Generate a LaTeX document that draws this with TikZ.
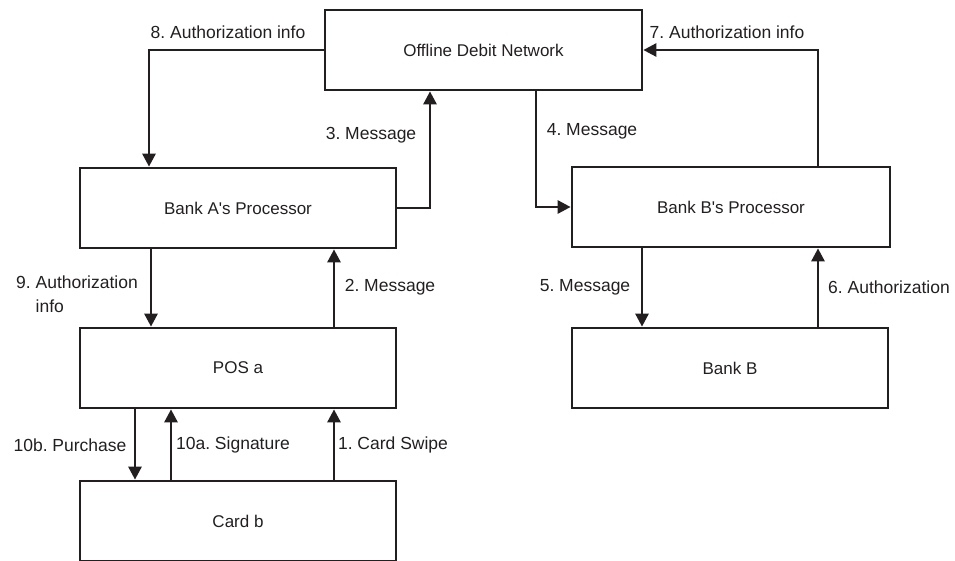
\documentclass[tikz,border=0pt]{standalone}
\usepackage{fontspec}
\setmainfont{Liberation Sans}
\usetikzlibrary{arrows.meta}
\definecolor{ink}{HTML}{231F20}
\frenchspacing
\begin{document}
\begin{tikzpicture}[x=1pt,y=-1pt,
  box/.style={draw=ink, line width=2.7pt, minimum width=316pt, minimum height=80pt, inner sep=0pt, text=ink, font=\fontsize{17}{22}\selectfont},
  lbl/.style={inner sep=0pt, text=ink, font=\fontsize{17.5}{24}\selectfont},
  arr/.style={draw=ink, line width=2.7pt, -{Triangle[length=13pt,width=13pt]}}]
\useasboundingbox (0,0) rectangle (955,560);
\clip (0,0) rectangle (955,560);
% boxes
\node[box, minimum width=317pt] (odn) at (483.5,50) {Offline Debit Network};
\node[box] (bankA) at (238,208) {Bank A\textquotesingle s Processor};
\node[box, minimum width=318pt] (bankBp) at (731,207) {Bank B\textquotesingle s Processor};
\node[box] (pos) at (238,368) {POS a};
\node[box] (bankB) at (730,368) {Bank B};
\node[box] (card) at (238,521) {Card b};
% bend points
\coordinate (c8) at (149,50);
\coordinate (c3) at (430,208);
\coordinate (c4) at (536,207);
\coordinate (c7) at (818,50);
\coordinate (c9) at (151,300);
\coordinate (c2) at (334,300);
\coordinate (c5) at (642,300);
\coordinate (c6) at (818,300);
\coordinate (c10b) at (135,450);
\coordinate (c10a) at (171,450);
\coordinate (c1) at (334,450);
% connectors
\draw[arr] (odn.west) -- (c8) -- (c8 |- bankA.north);
\draw[arr] (bankA.east) -- (c3) -- (c3 |- odn.south);
\draw[arr] (c4 |- odn.south) -- (c4) -- (bankBp.west);
\draw[arr] (c7 |- bankBp.north) -- (c7) -- (odn.east);
\draw[arr] (c9 |- bankA.south) -- (c9 |- pos.north);
\draw[arr] (c2 |- pos.north) -- (c2 |- bankA.south);
\draw[arr] (c5 |- bankBp.south) -- (c5 |- bankB.north);
\draw[arr] (c6 |- bankB.north) -- (c6 |- bankBp.south);
\draw[arr] (c10b |- pos.south) -- (c10b |- card.north);
\draw[arr] (c10a |- card.north) -- (c10a |- pos.south);
\draw[arr] (c1 |- card.north) -- (c1 |- pos.south);
% labels
\node[lbl] (l8) at (228,32) {8. Authorization info};
\node[lbl] (l3) at (371,135) {3. Message};
\node[lbl] (l7) at (727,32) {7. Authorization info};
\node[lbl] (l4) at (592,131) {4. Message};
\node[lbl, anchor=west, align=left] (l9) at (16,294) {9. Authorization\\\phantom{9. }info};
\node[lbl] (l2) at (390,287) {2. Message};
\node[lbl] (l5) at (585,287) {5. Message};
\node[lbl] (l6) at (889,287) {6. Authorization};
\node[lbl] (l10b) at (70,445) {10b. Purchase};
\node[lbl] (l10a) at (233,445) {10a. Signature};
\node[lbl] (l1) at (393,445) {1. Card Swipe};
\end{tikzpicture}
\end{document}
